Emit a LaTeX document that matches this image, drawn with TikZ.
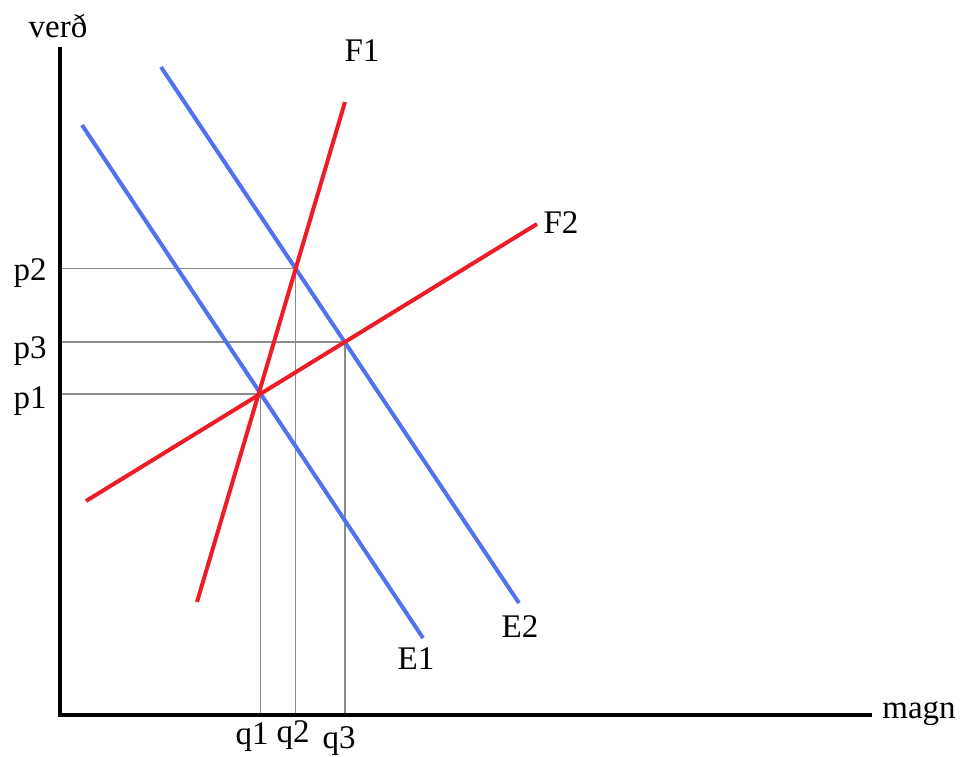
\documentclass[tikz,border=0pt]{standalone}
\usepackage{fontspec}
\setmainfont{Liberation Serif}
\definecolor{dblue}{RGB}{82,112,242}
\definecolor{dred}{RGB}{238,28,38}
\definecolor{guide}{RGB}{140,140,140}
\begin{document}
\begin{tikzpicture}[x=1pt,y=-1pt,
  axisline/.style={line width=4pt},
  demand/.style={dblue,line width=4pt},
  supply/.style={dred,line width=4pt},
  guideline/.style={guide,line width=1.5pt},
  lbl/.style={font=\fontsize{33}{36}\selectfont,inner sep=0pt,anchor=base}]
\useasboundingbox (0,0) rectangle (961,756);
% axes
\coordinate (O) at (60,715);
\coordinate (ytop) at (60,47);
\coordinate (xend) at (872,715);
% curve end points
\coordinate (E1a) at (82,125);  \coordinate (E1b) at (423,638);
\coordinate (E2a) at (161,67);  \coordinate (E2b) at (519,603);
\coordinate (F1a) at (197,602); \coordinate (F1b) at (345,102);
\coordinate (F2a) at (86,501);  \coordinate (F2b) at (537,224);
% equilibria
\coordinate (P1) at (intersection of E1a--E1b and F2a--F2b);
\coordinate (P2) at (intersection of E2a--E2b and F1a--F1b);
\coordinate (P3) at (intersection of E2a--E2b and F2a--F2b);
% guide lines
\draw[guideline] (O |- P2) -- (P2) -- (P2 |- O);
\draw[guideline] (O |- P3) -- (P3) -- (P3 |- O);
\draw[guideline] (O |- P1) -- (P1) -- (P1 |- O);
% curves
\draw[demand] (E1a) -- (E1b);
\draw[demand] (E2a) -- (E2b);
\draw[supply] (F1a) -- (F1b);
\draw[supply] (F2a) -- (F2b);
% axes
\draw[axisline] (ytop) -- (O) -- (xend);
% labels
\node[lbl] (lverd) at (58,37) {verð};
\node[lbl] (lmagn) at (919,718) {magn};
\node[lbl] (lF1) at (362,61) {F1};
\node[lbl] (lF2) at (561,233) {F2};
\node[lbl] (lE1) at (416,669) {E1};
\node[lbl] (lE2) at (520,637) {E2};
\node[lbl] (lp2) at (30,280) {p2};
\node[lbl] (lp3) at (30,358) {p3};
\node[lbl] (lp1) at (30,408) {p1};
\node[lbl] (lq1) at (252,744) {q1};
\node[lbl] (lq2) at (293,742) {q2};
\node[lbl] (lq3) at (339,748) {q3};
\end{tikzpicture}
\end{document}
